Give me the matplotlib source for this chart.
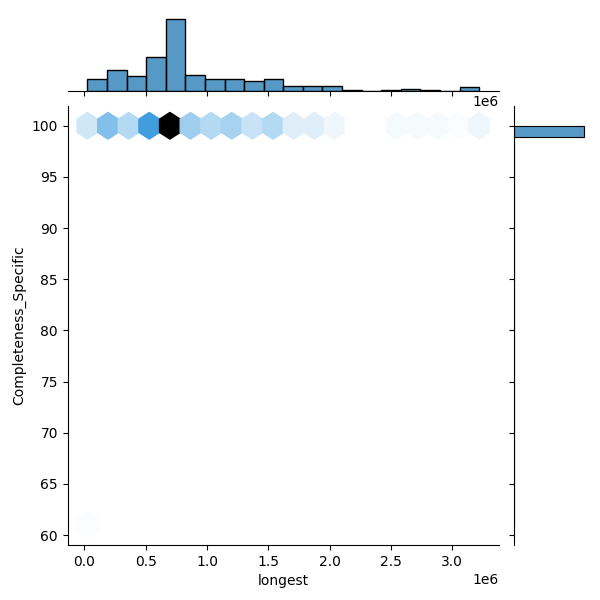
import numpy as np
import matplotlib
matplotlib.use("Agg")
import matplotlib.pyplot as plt
import seaborn as sns
from seaborn.utils import set_hls_values

# range of the data
longest_min, longest_max = 0.025e6, 3.22e6
compl_min, compl_max = 61, 100

# marginal histogram of "longest" (20 equal bins)
longest_hist = [14, 24, 17, 40, 85, 19, 14, 14, 12, 14, 6, 6, 5, 1, 0, 1, 2, 1, 0, 4]

# hexbin cell counts along the Completeness_Specific = 100 row (19 x 10 grid)
hex_row_100 = [9, 23, 14, 35, 80, 18, 14, 16, 10, 14, 6, 6, 3, 0, 0, 2, 2, 2, 1, 3]
low_longest = 0.03e6
low_compl = 61
low_count = 1

gridsize = 19

# hexbin input
hx = list(np.linspace(longest_min, longest_max, gridsize + 1)) + [low_longest]
hy = [compl_max] * len(hex_row_100) + [low_compl]
hc = hex_row_100 + [low_count]

color = sns.color_palette()[0]
colors = [set_hls_values(color, l=l) for l in np.linspace(1, 0, 12)]
cmap = sns.blend_palette(colors, as_cmap=True)

g = sns.JointGrid(height=6)
g.ax_joint.hexbin(hx, hy, C=hc, reduce_C_function=np.sum, gridsize=gridsize,
                  extent=(longest_min, longest_max, compl_min, compl_max),
                  cmap=cmap, vmin=0, vmax=max(hc))

edges = np.linspace(longest_min, longest_max, len(longest_hist) + 1)
centers = (edges[:-1] + edges[1:]) / 2
sns.histplot(x=list(centers), weights=longest_hist, bins=list(edges), ax=g.ax_marg_x)

y_edges = np.linspace(compl_min, compl_max, 37)
sns.histplot(y=[compl_max, low_compl], weights=[sum(hex_row_100), low_count],
             bins=list(y_edges), ax=g.ax_marg_y)

g.ax_joint.set_xlabel("longest")
g.ax_joint.set_ylabel("Completeness_Specific")

g.figure.subplots_adjust(left=0.113, right=0.98, top=0.975, bottom=0.092,
                         hspace=0.2, wspace=0.2)
g.figure.savefig("out.png", dpi=100)
